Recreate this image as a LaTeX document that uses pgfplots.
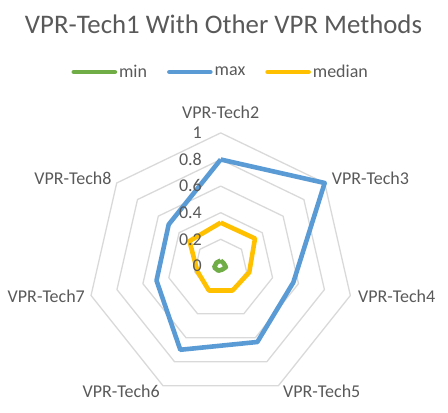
\documentclass[border=0pt]{standalone}
\usepackage{pgfplots}
\pgfplotsset{compat=1.18}
\usepgfplotslibrary{polar}
\usepackage{fontspec}
\setmainfont{Carlito}
\definecolor{cmin}{RGB}{112,173,71}
\definecolor{cmax}{RGB}{91,155,213}
\definecolor{cmed}{RGB}{255,192,0}
\definecolor{gridgray}{RGB}{217,217,217}
\definecolor{txtgray}{RGB}{89,89,89}
\newcommand{\lbl}{\fontsize{18bp}{21bp}\selectfont}
\begin{document}
\begin{tikzpicture}
\path[use as bounding box] (-220.7bp,-147.1bp) rectangle (227.3bp,265.9bp);
\begin{polaraxis}[
    at={(0,0)}, anchor=origin,
    scale only axis, width=266bp, height=266bp,
    ymin=0, ymax=1,
    xtick=\empty, ytick=\empty,
    hide axis,
    clip=false,
    legend columns=3,
    legend style={at={(0.5,1.229)}, anchor=center, draw=none, fill=none,
        font=\fontsize{18bp}{20bp}\selectfont, text=txtgray,
        /tikz/every even column/.append style={column sep=18bp}},
    legend image code/.code={\draw[#1, line cap=round] (0bp,0bp) -- (41bp,0bp);},
    every axis plot/.append style={line join=round, mark=none},
]
% grid heptagons
\foreach \r in {0.2,0.4,0.6,0.8,1} {
  \edef\temp{\noexpand\addplot[gridgray, line width=1.3bp, forget plot] coordinates {
    (90,\r) (38.571,\r) (-12.857,\r) (-64.286,\r) (-115.714,\r) (-167.143,\r) (141.429,\r) (90,\r)};}
  \temp
}
\addplot[cmin, line width=4.6bp] coordinates {
    (90,0.04) (38.571,0.03) (-12.857,0.04) (-64.286,0.03) (-115.714,0.04) (-167.143,0.05) (141.429,0.04) (90,0.04)};
\addlegendentry{min}
\addplot[cmax, line width=4.6bp] coordinates {
    (90,0.80) (38.571,1.00) (-12.857,0.56) (-64.286,0.635) (-115.714,0.70) (-167.143,0.495) (141.429,0.50) (90,0.80)};
\addlegendentry{max}
\addplot[cmed, line width=4.6bp] coordinates {
    (90,0.325) (38.571,0.33) (-12.857,0.22) (-64.286,0.205) (-115.714,0.205) (-167.143,0.18) (141.429,0.30) (90,0.325)};
\addlegendentry{median}
% radial tick labels
\foreach \r/\t in {0/0,0.2/0.2,0.4/0.4,0.6/0.6,0.8/0.8,1/1} {
  \edef\temp{\noexpand\node[anchor=base east, inner sep=0pt, xshift=-18.7bp, yshift=-5.8bp, text=txtgray, font=\noexpand\lbl] at (axis cs:90,\r) {\t};}
  \temp
}
% category labels
\begin{scope}[every node/.style={inner sep=0pt, text=txtgray, font=\lbl}]
\node[anchor=base, yshift=14bp] at (axis cs:90,1) {VPR-Tech2};
\node[anchor=base west, xshift=7bp, yshift=-2bp] at (axis cs:38.571,1) {VPR-Tech3};
\node[anchor=base west, xshift=7.6bp, yshift=-7.2bp] at (axis cs:-12.857,1) {VPR-Tech4};
\node[anchor=base west, xshift=4.6bp, yshift=-11.3bp] at (axis cs:-64.286,1) {VPR-Tech5};
\node[anchor=base east, xshift=-3bp, yshift=-11.3bp] at (axis cs:-115.714,1) {VPR-Tech6};
\node[anchor=base east, xshift=-6bp, yshift=-7.2bp] at (axis cs:-167.143,1) {VPR-Tech7};
\node[anchor=base east, xshift=-5bp, yshift=-2bp] at (axis cs:141.429,1) {VPR-Tech8};
\end{scope}
\end{polaraxis}
\node[anchor=base, inner sep=0pt, text=txtgray, font=\fontsize{26.8bp}{30bp}\selectfont] at (2.8bp,232.4bp) {VPR-Tech1 With Other VPR Methods};
\end{tikzpicture}
\end{document}
